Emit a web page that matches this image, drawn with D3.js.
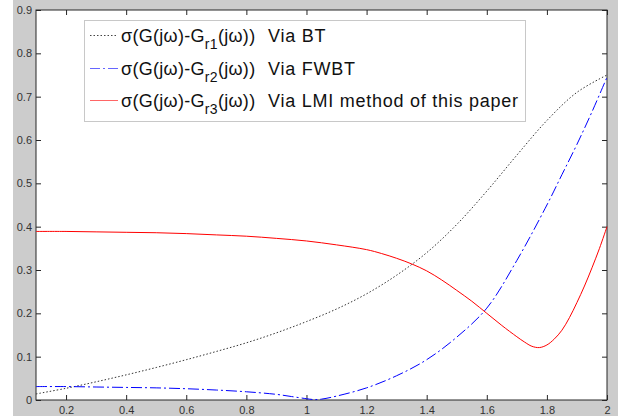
<!DOCTYPE html>
<html><head><meta charset="utf-8">
<script src="https://cdn.jsdelivr.net/npm/d3@7"></script>
<style>body{margin:0;background:#fff;}svg{display:block;}</style>
</head><body>
<svg id="c" width="626" height="418"></svg>
<script>
const xTicks = [0.2,0.4,0.6,0.8,1,1.2,1.4,1.6,1.8,2];
const yTicks = [0,0.1,0.2,0.3,0.4,0.5,0.6,0.7,0.8,0.9];

const xBT = [0.1,0.2,0.3,0.4,0.5,0.6,0.7,0.8,0.9,1.0,1.1,1.2,1.3,1.4,1.5,1.6,1.7,1.8,1.9,2.0];
const yBT = [0.014,0.027,0.042,0.058,0.075,0.093,0.112,0.132,0.155,0.181,0.21,0.245,0.288,0.34,0.405,0.482,0.565,0.645,0.71,0.75];

const xFW = [0.1,0.2,0.3,0.4,0.5,0.6,0.7,0.8,0.9,0.95,1.0,1.025,1.05,1.1,1.2,1.3,1.4,1.5,1.6,1.7,1.8,1.85,1.9,1.95,2.0];
const yFW = [0.031,0.031,0.030,0.029,0.028,0.026,0.023,0.019,0.013,0.008,0.003,0.001,0.002,0.009,0.028,0.056,0.093,0.145,0.212,0.322,0.45,0.52,0.59,0.665,0.745];

const xLMI = [0.1,0.2,0.3,0.4,0.5,0.6,0.7,0.8,0.9,1.0,1.1,1.2,1.25,1.3,1.35,1.4,1.45,1.5,1.55,1.6,1.65,1.7,1.725,1.75,1.775,1.8,1.825,1.85,1.875,1.9,1.925,1.95,1.975,2.0];
const yLMI = [0.389,0.389,0.388,0.387,0.386,0.384,0.381,0.378,0.373,0.367,0.358,0.347,0.338,0.327,0.314,0.298,0.277,0.253,0.228,0.200,0.172,0.146,0.134,0.124,0.121,0.127,0.141,0.161,0.19,0.225,0.263,0.305,0.35,0.40];

const svg = d3.select('#c');
svg.append('rect').attr('x',13).attr('y',0).attr('width',605).attr('height',416).attr('fill','#cccccc');

const L=36, R=607, T=10, B=400;
const x = d3.scaleLinear().domain([0.1,2]).range([L,R]);
const y = d3.scaleLinear().domain([0,0.9]).range([B,T]);

svg.append('rect').attr('x',L).attr('y',T).attr('width',R-L).attr('height',B-T).attr('fill','#fff');

const axCol = '#262626';
const fnt = '"Liberation Sans", Arial, sans-serif';
function styleAxis(g){
  g.select('.domain').remove();
  g.selectAll('.tick line').attr('stroke',axCol);
  g.selectAll('.tick text').attr('fill','#333').style('font-family',fnt).style('font-size','11px');
}
const fmt = d => String(d);
svg.append('g').attr('transform',`translate(0,${B})`)
  .call(d3.axisBottom(x).tickValues(xTicks).tickFormat(fmt).tickSizeInner(-5).tickSizeOuter(0).tickPadding(6))
  .call(styleAxis);
svg.append('g').attr('transform',`translate(0,${T})`)
  .call(d3.axisTop(x).tickValues(xTicks).tickFormat('').tickSizeInner(-5).tickSizeOuter(0))
  .call(styleAxis);
svg.append('g').attr('transform',`translate(${L},0)`)
  .call(d3.axisLeft(y).tickValues(yTicks).tickFormat(fmt).tickSizeInner(-5).tickSizeOuter(0).tickPadding(4))
  .call(styleAxis);
svg.append('g').attr('transform',`translate(${R},0)`)
  .call(d3.axisRight(y).tickValues(yTicks).tickFormat('').tickSizeInner(-5).tickSizeOuter(0))
  .call(styleAxis);
svg.append('rect').attr('x',L).attr('y',T).attr('width',R-L).attr('height',B-T)
  .attr('fill','none').attr('stroke',axCol).attr('stroke-width',1);

const line = d3.line().x(d=>x(d[0])).y(d=>y(d[1])).curve(d3.curveCatmullRom.alpha(0.5));
const series = [
  {xs:xBT, ys:yBT, color:'#333', dash:'1.5,2', label:'1', via:'Via BT'},
  {xs:xFW, ys:yFW, color:'#0000ff', dash:'11,3,2,3', label:'2', via:'Via FWBT'},
  {xs:xLMI, ys:yLMI, color:'#ff0000', dash:null, label:'3', via:'Via LMI method of this paper'}
];
const plot = svg.append('g');
series.forEach(s=>{
  const pts = s.xs.map((v,i)=>[v,s.ys[i]]);
  const p = plot.append('path').attr('d',line(pts)).attr('fill','none')
    .attr('stroke',s.color).attr('stroke-width',1);
  if(s.dash) p.attr('stroke-dasharray',s.dash);
});

// legend
const lg = svg.append('g');
lg.append('rect').attr('x',84.5).attr('y',20.5).attr('width',441).attr('height',101)
  .attr('fill','#fff').attr('stroke','#c8c8c8');
const legendColors = ['#444','#6666ff','#ff6666'];
series.forEach((s,i)=>{
  const cy = [35,68,100][i];
  const ln = lg.append('line').attr('x1',90).attr('x2',118).attr('y1',cy+0.5).attr('y2',cy+0.5)
    .attr('stroke',legendColors[i]).attr('stroke-width',1);
  if(s.dash) ln.attr('stroke-dasharray', i===1? '10,3,2,3':'1.5,2');
  const t = lg.append('text').attr('x',121).attr('y',cy+7)
    .style('font-family',fnt).style('font-size','18px').style('letter-spacing','0.3px').attr('fill','#111');
  t.append('tspan').text('σ(G(jω)-G');
  t.append('tspan').attr('dy',7).style('font-size','14px').text('r'+s.label);
  t.append('tspan').attr('dy',-7).text('(jω))');
  lg.append('text').attr('x',268).attr('y',cy+7)
    .style('font-family',fnt).style('font-size','18px').style('letter-spacing','0.75px').attr('fill','#111').text(s.via);
});
</script>
</body></html>
